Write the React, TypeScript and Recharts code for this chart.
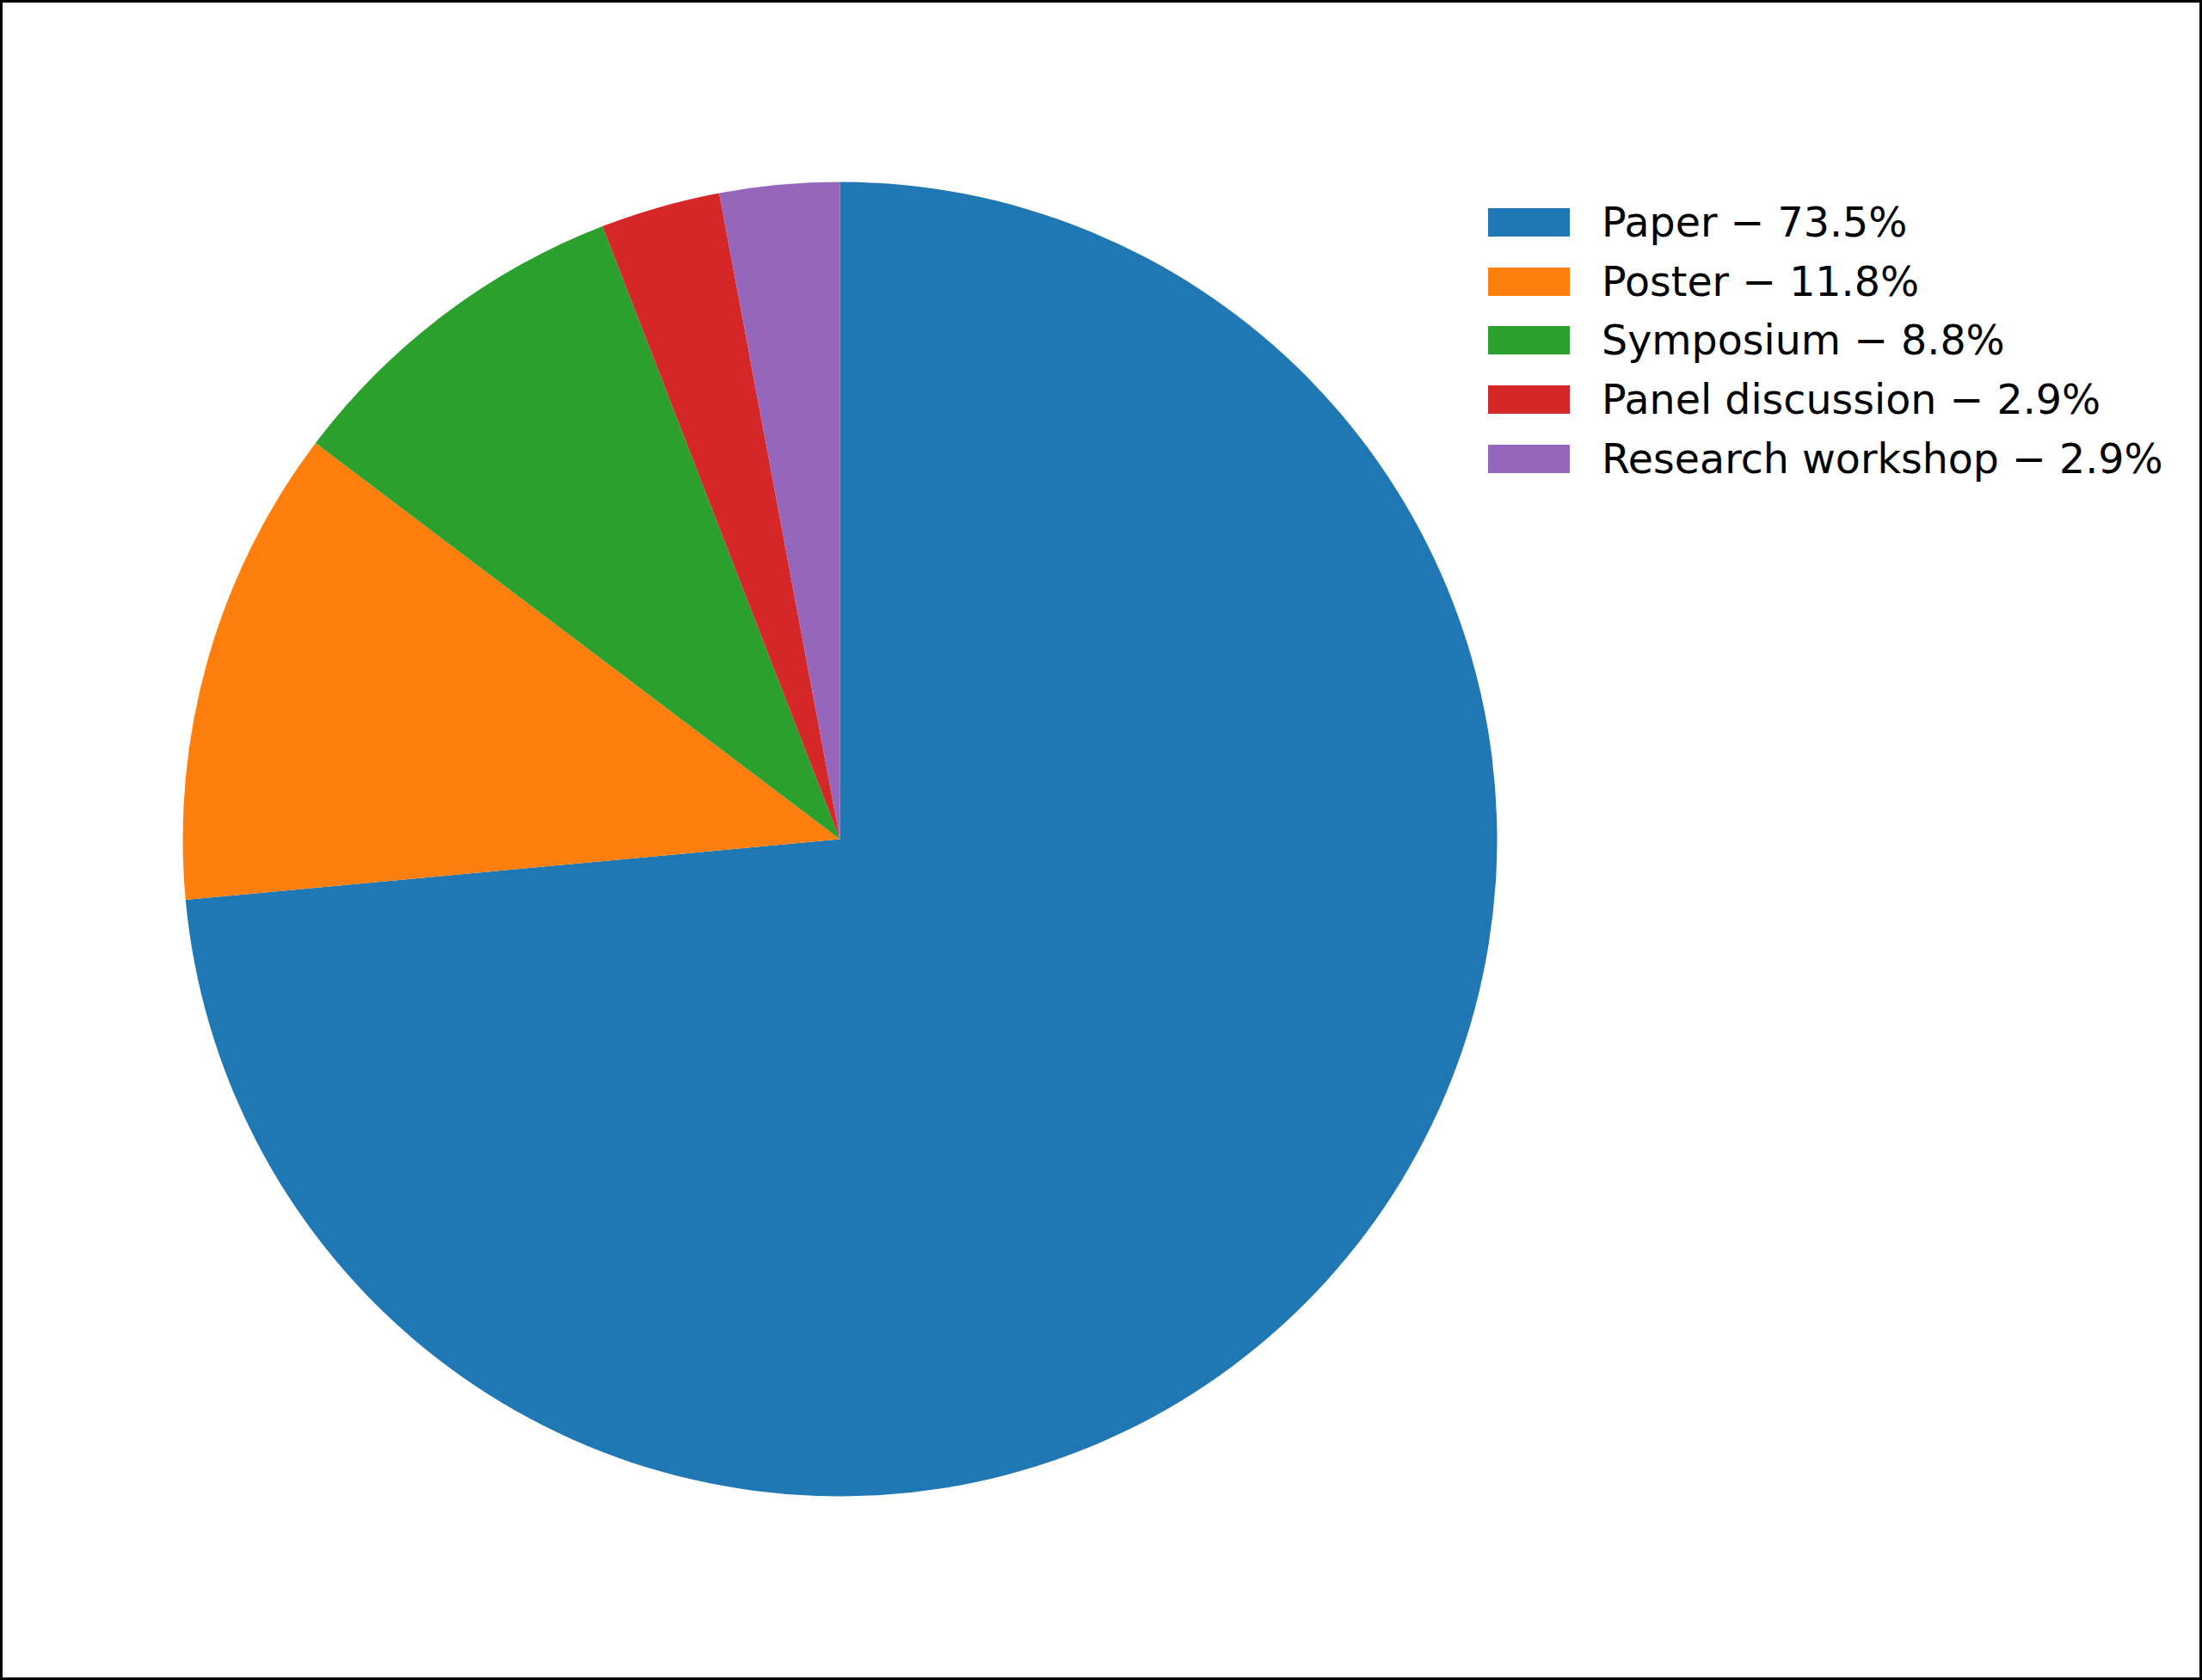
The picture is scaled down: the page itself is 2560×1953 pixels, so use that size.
import { PieChart, Pie, Cell, Legend } from 'recharts';

// Session types and counts (share of 34 sessions)
const categories = ['Paper', 'Poster', 'Symposium', 'Panel discussion', 'Research workshop'];
const counts = [25, 4, 3, 1, 1];
const colors = ['#1f77b4', '#ff7f0e', '#2ca02c', '#d62728', '#9467bd'];

const total = counts.reduce((a, b) => a + b, 0);
const chartData = categories.map((name, i) => ({
  name,
  value: counts[i],
  label: `${name} \u2212 ${((counts[i] / total) * 100).toFixed(1)}%`,
}));

const FONT = '"DejaVu Sans", sans-serif';

// keep the data order (recharts sorts legend items by name otherwise)
const renderLegend = () => (
  <div style={{ fontFamily: FONT, fontSize: 47.5, color: '#000' }}>
    {chartData.map((entry, index) => (
      <div key={`item-${index}`} style={{ display: 'flex', alignItems: 'center', height: 68.8 }}>
        <span
          style={{
            display: 'inline-block',
            width: 95,
            height: 33,
            background: colors[index],
            marginRight: 37,
          }}
        />
        <span style={{ whiteSpace: 'nowrap' }}>{entry.label}</span>
      </div>
    ))}
  </div>
);

export default function App() {
  return (
    <div
      style={{
        width: 2560,
        height: 1953,
        boxSizing: 'border-box',
        border: '3px solid #000',
        background: '#fff',
        position: 'relative',
        overflow: 'hidden',
      }}
    >
      <style>{`body { margin: 0; }`}</style>
      <PieChart
        width={2554}
        height={1947}
        margin={{ top: 0, right: 0, bottom: 0, left: 0 }}
        style={{ position: 'absolute', left: 0, top: 0 }}
      >
        <Pie
          data={chartData}
          dataKey="value"
          nameKey="name"
          cx={973.5}
          cy={972.5}
          outerRadius={764}
          startAngle={90}
          endAngle={-270}
          stroke="none"
          isAnimationActive={false}
        >
          {chartData.map((entry, index) => (
            <Cell key={`cell-${index}`} fill={colors[index]} />
          ))}
        </Pie>
        <Legend
          content={renderLegend}
          layout="vertical"
          wrapperStyle={{ position: 'absolute', left: 1727, top: 221, width: 'auto' }}
        />
      </PieChart>
    </div>
  );
}
